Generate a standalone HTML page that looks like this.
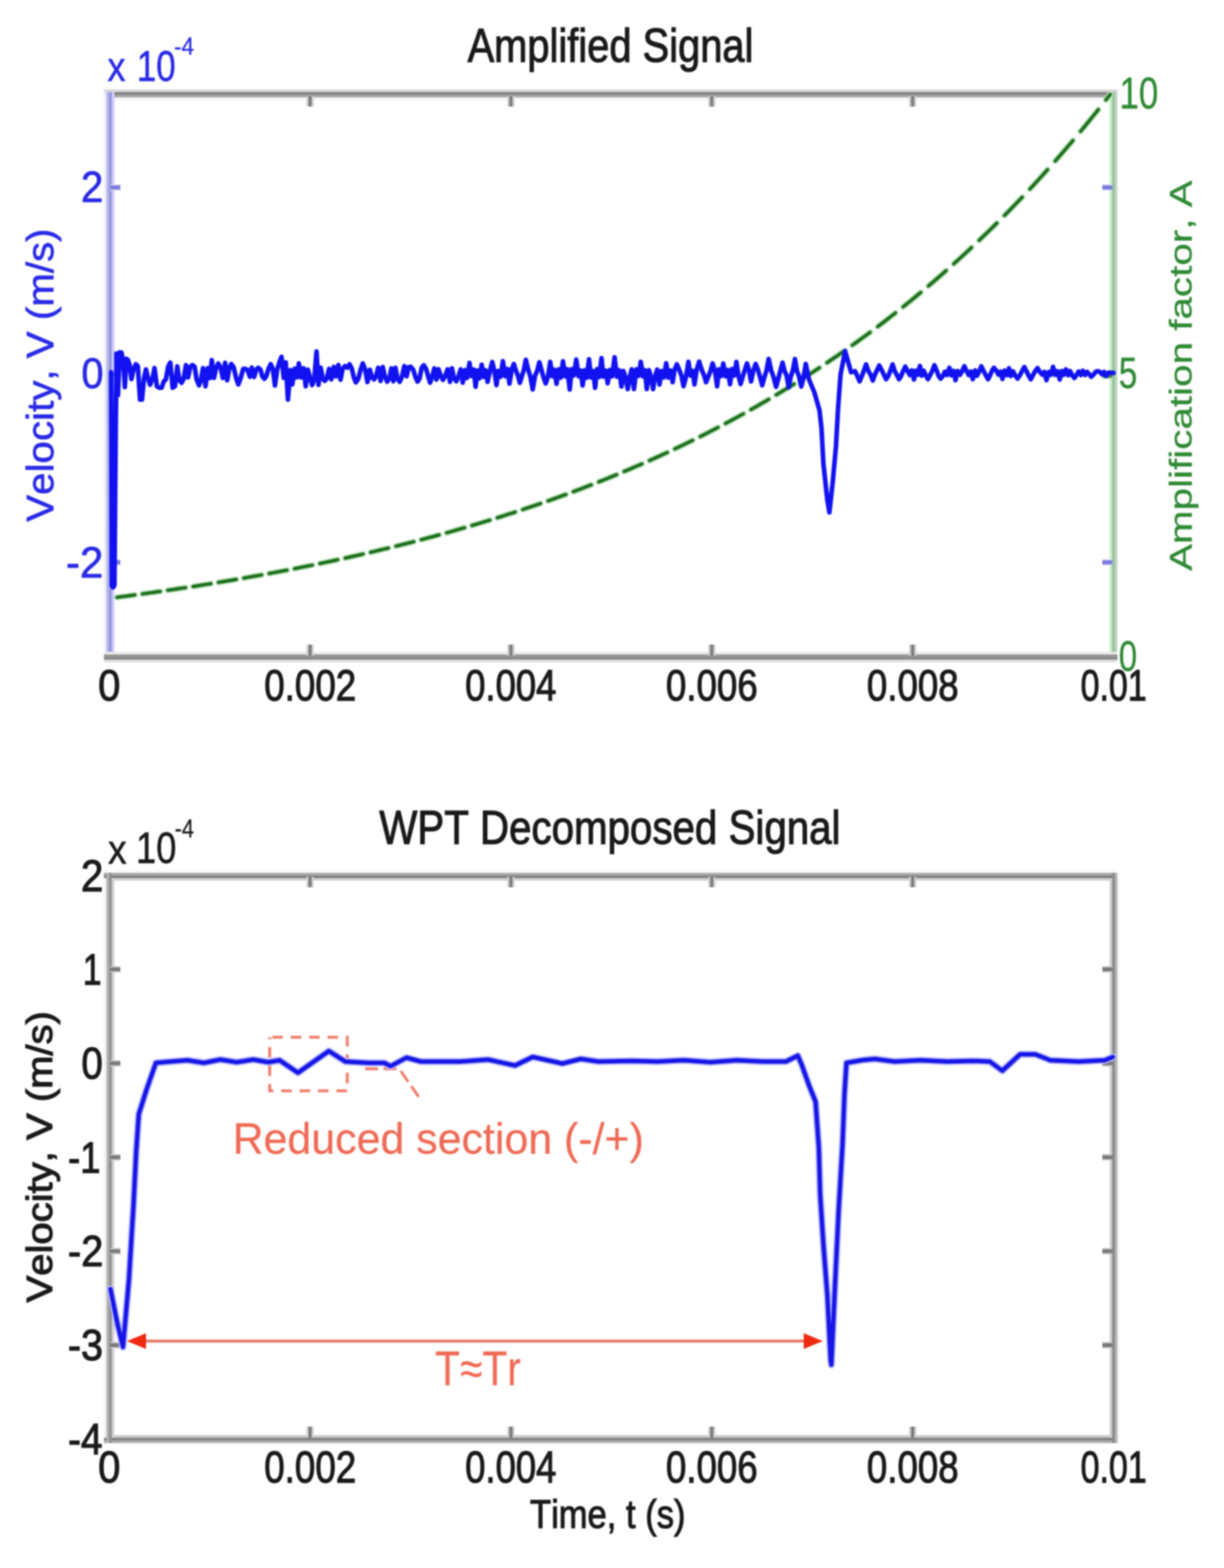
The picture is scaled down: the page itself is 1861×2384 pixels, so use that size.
<!DOCTYPE html>
<html><head><meta charset="utf-8"><title>Amplified Signal / WPT Decomposed Signal</title>
<style>html,body{margin:0;padding:0;background:#fff;width:1861px;height:2384px;overflow:hidden}
svg text{font-family:"Liberation Sans", Arial, Helvetica, sans-serif;font-kerning:none;letter-spacing:0}</style>
</head><body>
<svg width="1861" height="2384" viewBox="0 0 1861 2384" style="display:block;filter:blur(1.0px)">
<rect width="1861" height="2384" fill="#fff"/>
<rect x="158" y="136" width="1541" height="4" fill="#d7d7d7"/>
<rect x="158" y="148" width="1541" height="4" fill="#f4f4f4"/>
<rect x="158" y="140" width="1541" height="4" fill="#858585"/>
<rect x="158" y="144" width="1541" height="4" fill="#a3a3a3"/>
<rect x="158" y="140" width="4" height="855" fill="#ececfc"/>
<rect x="170" y="140" width="4" height="855" fill="#d0ccfc"/>
<rect x="162" y="140" width="4" height="855" fill="#b0b4e4"/>
<rect x="166" y="140" width="4" height="855" fill="#9896e0"/>
<rect x="1687" y="140" width="4" height="855" fill="#c6eec8"/>
<rect x="1695" y="140" width="4" height="855" fill="#c2d4c8"/>
<rect x="1691" y="140" width="4" height="855" fill="#98c29a"/>
<rect x="158" y="991" width="1541" height="4" fill="#ebebeb"/>
<rect x="158" y="1003" width="1541" height="4" fill="#e0e0e0"/>
<rect x="158" y="995" width="1541" height="4" fill="#979797"/>
<rect x="158" y="999" width="1541" height="4" fill="#8a8a8a"/>
<line x1="471.4" y1="997" x2="471.4" y2="980" stroke="#d2d2d2" stroke-width="11" stroke-linecap="butt"/>
<line x1="471.4" y1="997" x2="471.4" y2="980" stroke="#7e7e7e" stroke-width="5" stroke-linecap="butt"/>
<line x1="471.4" y1="146" x2="471.4" y2="162" stroke="#d2d2d2" stroke-width="11" stroke-linecap="butt"/>
<line x1="471.4" y1="146" x2="471.4" y2="162" stroke="#7e7e7e" stroke-width="5" stroke-linecap="butt"/>
<line x1="776.8" y1="997" x2="776.8" y2="980" stroke="#d2d2d2" stroke-width="11" stroke-linecap="butt"/>
<line x1="776.8" y1="997" x2="776.8" y2="980" stroke="#7e7e7e" stroke-width="5" stroke-linecap="butt"/>
<line x1="776.8" y1="146" x2="776.8" y2="162" stroke="#d2d2d2" stroke-width="11" stroke-linecap="butt"/>
<line x1="776.8" y1="146" x2="776.8" y2="162" stroke="#7e7e7e" stroke-width="5" stroke-linecap="butt"/>
<line x1="1082.2" y1="997" x2="1082.2" y2="980" stroke="#d2d2d2" stroke-width="11" stroke-linecap="butt"/>
<line x1="1082.2" y1="997" x2="1082.2" y2="980" stroke="#7e7e7e" stroke-width="5" stroke-linecap="butt"/>
<line x1="1082.2" y1="146" x2="1082.2" y2="162" stroke="#d2d2d2" stroke-width="11" stroke-linecap="butt"/>
<line x1="1082.2" y1="146" x2="1082.2" y2="162" stroke="#7e7e7e" stroke-width="5" stroke-linecap="butt"/>
<line x1="1387.6" y1="997" x2="1387.6" y2="980" stroke="#d2d2d2" stroke-width="11" stroke-linecap="butt"/>
<line x1="1387.6" y1="997" x2="1387.6" y2="980" stroke="#7e7e7e" stroke-width="5" stroke-linecap="butt"/>
<line x1="1387.6" y1="146" x2="1387.6" y2="162" stroke="#d2d2d2" stroke-width="11" stroke-linecap="butt"/>
<line x1="1387.6" y1="146" x2="1387.6" y2="162" stroke="#7e7e7e" stroke-width="5" stroke-linecap="butt"/>
<line x1="168" y1="285" x2="183" y2="285" stroke="#d8d8f6" stroke-width="10" stroke-linecap="butt"/>
<line x1="168" y1="285" x2="183" y2="285" stroke="#7a7ae0" stroke-width="6" stroke-linecap="butt"/>
<line x1="1691" y1="285" x2="1676" y2="285" stroke="#d8d8f6" stroke-width="10" stroke-linecap="butt"/>
<line x1="1691" y1="285" x2="1676" y2="285" stroke="#7a7ae0" stroke-width="6" stroke-linecap="butt"/>
<line x1="168" y1="570" x2="183" y2="570" stroke="#d8d8f6" stroke-width="10" stroke-linecap="butt"/>
<line x1="168" y1="570" x2="183" y2="570" stroke="#7a7ae0" stroke-width="6" stroke-linecap="butt"/>
<line x1="1691" y1="570" x2="1676" y2="570" stroke="#d8d8f6" stroke-width="10" stroke-linecap="butt"/>
<line x1="1691" y1="570" x2="1676" y2="570" stroke="#7a7ae0" stroke-width="6" stroke-linecap="butt"/>
<line x1="168" y1="855" x2="183" y2="855" stroke="#d8d8f6" stroke-width="10" stroke-linecap="butt"/>
<line x1="168" y1="855" x2="183" y2="855" stroke="#7a7ae0" stroke-width="6" stroke-linecap="butt"/>
<line x1="1691" y1="855" x2="1676" y2="855" stroke="#d8d8f6" stroke-width="10" stroke-linecap="butt"/>
<line x1="1691" y1="855" x2="1676" y2="855" stroke="#7a7ae0" stroke-width="6" stroke-linecap="butt"/>
<line x1="1691" y1="571.5" x2="1676" y2="571.5" stroke="#d0e8d0" stroke-width="10" stroke-linecap="butt"/>
<line x1="1691" y1="571.5" x2="1676" y2="571.5" stroke="#4a8a4a" stroke-width="6" stroke-linecap="butt"/>
<polyline points="178,908.19 182.5,907.6 187,907 191.5,906.4 196,905.8 200.5,905.19 205,904.58" fill="none" stroke="#b4dcb4" stroke-width="9" stroke-linejoin="round" stroke-linecap="round" stroke-linecap="butt"/>
<polyline points="178,908.19 182.5,907.6 187,907 191.5,906.4 196,905.8 200.5,905.19 205,904.58" fill="none" stroke="#1b6f1b" stroke-width="5" stroke-linejoin="round" stroke-linecap="round" stroke-linecap="butt"/>
<polyline points="216.55,903 221.05,902.37 225.55,901.74 230.05,901.11 234.55,900.47 239.05,899.82 243.55,899.18" fill="none" stroke="#b4dcb4" stroke-width="9" stroke-linejoin="round" stroke-linecap="round" stroke-linecap="butt"/>
<polyline points="216.55,903 221.05,902.37 225.55,901.74 230.05,901.11 234.55,900.47 239.05,899.82 243.55,899.18" fill="none" stroke="#1b6f1b" stroke-width="5" stroke-linejoin="round" stroke-linecap="round" stroke-linecap="butt"/>
<polyline points="255.1,897.49 259.6,896.83 264.1,896.16 268.6,895.49 273.1,894.81 277.6,894.13 282.1,893.44" fill="none" stroke="#b4dcb4" stroke-width="9" stroke-linejoin="round" stroke-linecap="round" stroke-linecap="butt"/>
<polyline points="255.1,897.49 259.6,896.83 264.1,896.16 268.6,895.49 273.1,894.81 277.6,894.13 282.1,893.44" fill="none" stroke="#1b6f1b" stroke-width="5" stroke-linejoin="round" stroke-linecap="round" stroke-linecap="butt"/>
<polyline points="293.65,891.66 298.15,890.96 302.65,890.25 307.15,889.54 311.65,888.82 316.15,888.1 320.65,887.37" fill="none" stroke="#b4dcb4" stroke-width="9" stroke-linejoin="round" stroke-linecap="round" stroke-linecap="butt"/>
<polyline points="293.65,891.66 298.15,890.96 302.65,890.25 307.15,889.54 311.65,888.82 316.15,888.1 320.65,887.37" fill="none" stroke="#1b6f1b" stroke-width="5" stroke-linejoin="round" stroke-linecap="round" stroke-linecap="butt"/>
<polyline points="332.2,885.48 336.7,884.73 341.2,883.98 345.7,883.22 350.2,882.46 354.7,881.7 359.2,880.92" fill="none" stroke="#b4dcb4" stroke-width="9" stroke-linejoin="round" stroke-linecap="round" stroke-linecap="butt"/>
<polyline points="332.2,885.48 336.7,884.73 341.2,883.98 345.7,883.22 350.2,882.46 354.7,881.7 359.2,880.92" fill="none" stroke="#1b6f1b" stroke-width="5" stroke-linejoin="round" stroke-linecap="round" stroke-linecap="butt"/>
<polyline points="370.75,878.92 375.25,878.13 379.75,877.33 384.25,876.53 388.75,875.72 393.25,874.91 397.75,874.09" fill="none" stroke="#b4dcb4" stroke-width="9" stroke-linejoin="round" stroke-linecap="round" stroke-linecap="butt"/>
<polyline points="370.75,878.92 375.25,878.13 379.75,877.33 384.25,876.53 388.75,875.72 393.25,874.91 397.75,874.09" fill="none" stroke="#1b6f1b" stroke-width="5" stroke-linejoin="round" stroke-linecap="round" stroke-linecap="butt"/>
<polyline points="409.3,871.97 413.8,871.13 418.3,870.29 422.8,869.44 427.3,868.58 431.8,867.72 436.3,866.85" fill="none" stroke="#b4dcb4" stroke-width="9" stroke-linejoin="round" stroke-linecap="round" stroke-linecap="butt"/>
<polyline points="409.3,871.97 413.8,871.13 418.3,870.29 422.8,869.44 427.3,868.58 431.8,867.72 436.3,866.85" fill="none" stroke="#1b6f1b" stroke-width="5" stroke-linejoin="round" stroke-linecap="round" stroke-linecap="butt"/>
<polyline points="447.85,864.6 452.35,863.71 456.85,862.82 461.35,861.91 465.85,861.01 470.35,860.09 474.85,859.17" fill="none" stroke="#b4dcb4" stroke-width="9" stroke-linejoin="round" stroke-linecap="round" stroke-linecap="butt"/>
<polyline points="447.85,864.6 452.35,863.71 456.85,862.82 461.35,861.91 465.85,861.01 470.35,860.09 474.85,859.17" fill="none" stroke="#1b6f1b" stroke-width="5" stroke-linejoin="round" stroke-linecap="round" stroke-linecap="butt"/>
<polyline points="486.4,856.79 490.9,855.84 495.4,854.9 499.9,853.94 504.4,852.98 508.9,852.01 513.4,851.04" fill="none" stroke="#b4dcb4" stroke-width="9" stroke-linejoin="round" stroke-linecap="round" stroke-linecap="butt"/>
<polyline points="486.4,856.79 490.9,855.84 495.4,854.9 499.9,853.94 504.4,852.98 508.9,852.01 513.4,851.04" fill="none" stroke="#1b6f1b" stroke-width="5" stroke-linejoin="round" stroke-linecap="round" stroke-linecap="butt"/>
<polyline points="524.95,848.5 529.45,847.5 533.95,846.5 538.45,845.49 542.95,844.47 547.45,843.44 551.95,842.41" fill="none" stroke="#b4dcb4" stroke-width="9" stroke-linejoin="round" stroke-linecap="round" stroke-linecap="butt"/>
<polyline points="524.95,848.5 529.45,847.5 533.95,846.5 538.45,845.49 542.95,844.47 547.45,843.44 551.95,842.41" fill="none" stroke="#1b6f1b" stroke-width="5" stroke-linejoin="round" stroke-linecap="round" stroke-linecap="butt"/>
<polyline points="563.5,839.72 568,838.66 572.5,837.6 577,836.52 581.5,835.44 586,834.35 590.5,833.26" fill="none" stroke="#b4dcb4" stroke-width="9" stroke-linejoin="round" stroke-linecap="round" stroke-linecap="butt"/>
<polyline points="563.5,839.72 568,838.66 572.5,837.6 577,836.52 581.5,835.44 586,834.35 590.5,833.26" fill="none" stroke="#1b6f1b" stroke-width="5" stroke-linejoin="round" stroke-linecap="round" stroke-linecap="butt"/>
<polyline points="602.05,830.41 606.55,829.29 611.05,828.16 615.55,827.02 620.05,825.87 624.55,824.72 629.05,823.56" fill="none" stroke="#b4dcb4" stroke-width="9" stroke-linejoin="round" stroke-linecap="round" stroke-linecap="butt"/>
<polyline points="602.05,830.41 606.55,829.29 611.05,828.16 615.55,827.02 620.05,825.87 624.55,824.72 629.05,823.56" fill="none" stroke="#1b6f1b" stroke-width="5" stroke-linejoin="round" stroke-linecap="round" stroke-linecap="butt"/>
<polyline points="640.6,820.54 645.1,819.35 649.6,818.15 654.1,816.94 658.6,815.73 663.1,814.51 667.6,813.27" fill="none" stroke="#b4dcb4" stroke-width="9" stroke-linejoin="round" stroke-linecap="round" stroke-linecap="butt"/>
<polyline points="640.6,820.54 645.1,819.35 649.6,818.15 654.1,816.94 658.6,815.73 663.1,814.51 667.6,813.27" fill="none" stroke="#1b6f1b" stroke-width="5" stroke-linejoin="round" stroke-linecap="round" stroke-linecap="butt"/>
<polyline points="679.15,810.07 683.65,808.81 688.15,807.54 692.65,806.26 697.15,804.97 701.65,803.68 706.15,802.37" fill="none" stroke="#b4dcb4" stroke-width="9" stroke-linejoin="round" stroke-linecap="round" stroke-linecap="butt"/>
<polyline points="679.15,810.07 683.65,808.81 688.15,807.54 692.65,806.26 697.15,804.97 701.65,803.68 706.15,802.37" fill="none" stroke="#1b6f1b" stroke-width="5" stroke-linejoin="round" stroke-linecap="round" stroke-linecap="butt"/>
<polyline points="717.7,798.98 722.2,797.64 726.7,796.29 731.2,794.94 735.7,793.57 740.2,792.2 744.7,790.81" fill="none" stroke="#b4dcb4" stroke-width="9" stroke-linejoin="round" stroke-linecap="round" stroke-linecap="butt"/>
<polyline points="717.7,798.98 722.2,797.64 726.7,796.29 731.2,794.94 735.7,793.57 740.2,792.2 744.7,790.81" fill="none" stroke="#1b6f1b" stroke-width="5" stroke-linejoin="round" stroke-linecap="round" stroke-linecap="butt"/>
<polyline points="756.25,787.22 760.75,785.8 765.25,784.37 769.75,782.93 774.25,781.48 778.75,780.03 783.25,778.56" fill="none" stroke="#b4dcb4" stroke-width="9" stroke-linejoin="round" stroke-linecap="round" stroke-linecap="butt"/>
<polyline points="756.25,787.22 760.75,785.8 765.25,784.37 769.75,782.93 774.25,781.48 778.75,780.03 783.25,778.56" fill="none" stroke="#1b6f1b" stroke-width="5" stroke-linejoin="round" stroke-linecap="round" stroke-linecap="butt"/>
<polyline points="794.8,774.75 799.3,773.24 803.8,771.73 808.3,770.2 812.8,768.67 817.3,767.12 821.8,765.57" fill="none" stroke="#b4dcb4" stroke-width="9" stroke-linejoin="round" stroke-linecap="round" stroke-linecap="butt"/>
<polyline points="794.8,774.75 799.3,773.24 803.8,771.73 808.3,770.2 812.8,768.67 817.3,767.12 821.8,765.57" fill="none" stroke="#1b6f1b" stroke-width="5" stroke-linejoin="round" stroke-linecap="round" stroke-linecap="butt"/>
<polyline points="833.35,761.53 837.85,759.93 842.35,758.33 846.85,756.71 851.35,755.08 855.85,753.44 860.35,751.79" fill="none" stroke="#b4dcb4" stroke-width="9" stroke-linejoin="round" stroke-linecap="round" stroke-linecap="butt"/>
<polyline points="833.35,761.53 837.85,759.93 842.35,758.33 846.85,756.71 851.35,755.08 855.85,753.44 860.35,751.79" fill="none" stroke="#1b6f1b" stroke-width="5" stroke-linejoin="round" stroke-linecap="round" stroke-linecap="butt"/>
<polyline points="871.9,747.51 876.4,745.82 880.9,744.12 885.4,742.4 889.9,740.68 894.4,738.94 898.9,737.19" fill="none" stroke="#b4dcb4" stroke-width="9" stroke-linejoin="round" stroke-linecap="round" stroke-linecap="butt"/>
<polyline points="871.9,747.51 876.4,745.82 880.9,744.12 885.4,742.4 889.9,740.68 894.4,738.94 898.9,737.19" fill="none" stroke="#1b6f1b" stroke-width="5" stroke-linejoin="round" stroke-linecap="round" stroke-linecap="butt"/>
<polyline points="910.45,732.65 914.95,730.86 919.45,729.05 923.95,727.24 928.45,725.41 932.95,723.57 937.45,721.71" fill="none" stroke="#b4dcb4" stroke-width="9" stroke-linejoin="round" stroke-linecap="round" stroke-linecap="butt"/>
<polyline points="910.45,732.65 914.95,730.86 919.45,729.05 923.95,727.24 928.45,725.41 932.95,723.57 937.45,721.71" fill="none" stroke="#1b6f1b" stroke-width="5" stroke-linejoin="round" stroke-linecap="round" stroke-linecap="butt"/>
<polyline points="949,716.89 953.5,714.99 958,713.08 962.5,711.16 967,709.22 971.5,707.26 976,705.3" fill="none" stroke="#b4dcb4" stroke-width="9" stroke-linejoin="round" stroke-linecap="round" stroke-linecap="butt"/>
<polyline points="949,716.89 953.5,714.99 958,713.08 962.5,711.16 967,709.22 971.5,707.26 976,705.3" fill="none" stroke="#1b6f1b" stroke-width="5" stroke-linejoin="round" stroke-linecap="round" stroke-linecap="butt"/>
<polyline points="987.55,700.19 992.05,698.18 996.55,696.15 1001.05,694.11 1005.55,692.05 1010.05,689.98 1014.55,687.9" fill="none" stroke="#b4dcb4" stroke-width="9" stroke-linejoin="round" stroke-linecap="round" stroke-linecap="butt"/>
<polyline points="987.55,700.19 992.05,698.18 996.55,696.15 1001.05,694.11 1005.55,692.05 1010.05,689.98 1014.55,687.9" fill="none" stroke="#1b6f1b" stroke-width="5" stroke-linejoin="round" stroke-linecap="round" stroke-linecap="butt"/>
<polyline points="1026.1,682.48 1030.6,680.35 1035.1,678.2 1039.6,676.03 1044.1,673.85 1048.6,671.66 1053.1,669.45" fill="none" stroke="#b4dcb4" stroke-width="9" stroke-linejoin="round" stroke-linecap="round" stroke-linecap="butt"/>
<polyline points="1026.1,682.48 1030.6,680.35 1035.1,678.2 1039.6,676.03 1044.1,673.85 1048.6,671.66 1053.1,669.45" fill="none" stroke="#1b6f1b" stroke-width="5" stroke-linejoin="round" stroke-linecap="round" stroke-linecap="butt"/>
<polyline points="1064.65,663.71 1069.15,661.45 1073.65,659.17 1078.15,656.87 1082.65,654.56 1087.15,652.23 1091.65,649.89" fill="none" stroke="#b4dcb4" stroke-width="9" stroke-linejoin="round" stroke-linecap="round" stroke-linecap="butt"/>
<polyline points="1064.65,663.71 1069.15,661.45 1073.65,659.17 1078.15,656.87 1082.65,654.56 1087.15,652.23 1091.65,649.89" fill="none" stroke="#1b6f1b" stroke-width="5" stroke-linejoin="round" stroke-linecap="round" stroke-linecap="butt"/>
<polyline points="1103.2,643.81 1107.7,641.41 1112.2,638.99 1116.7,636.56 1121.2,634.11 1125.7,631.64 1130.2,629.16" fill="none" stroke="#b4dcb4" stroke-width="9" stroke-linejoin="round" stroke-linecap="round" stroke-linecap="butt"/>
<polyline points="1103.2,643.81 1107.7,641.41 1112.2,638.99 1116.7,636.56 1121.2,634.11 1125.7,631.64 1130.2,629.16" fill="none" stroke="#1b6f1b" stroke-width="5" stroke-linejoin="round" stroke-linecap="round" stroke-linecap="butt"/>
<polyline points="1141.75,622.7 1146.25,620.16 1150.75,617.6 1155.25,615.02 1159.75,612.42 1164.25,609.81 1168.75,607.17" fill="none" stroke="#b4dcb4" stroke-width="9" stroke-linejoin="round" stroke-linecap="round" stroke-linecap="butt"/>
<polyline points="1141.75,622.7 1146.25,620.16 1150.75,617.6 1155.25,615.02 1159.75,612.42 1164.25,609.81 1168.75,607.17" fill="none" stroke="#1b6f1b" stroke-width="5" stroke-linejoin="round" stroke-linecap="round" stroke-linecap="butt"/>
<polyline points="1180.3,600.33 1184.8,597.63 1189.3,594.92 1193.8,592.18 1198.3,589.43 1202.8,586.66 1207.3,583.87" fill="none" stroke="#b4dcb4" stroke-width="9" stroke-linejoin="round" stroke-linecap="round" stroke-linecap="butt"/>
<polyline points="1180.3,600.33 1184.8,597.63 1189.3,594.92 1193.8,592.18 1198.3,589.43 1202.8,586.66 1207.3,583.87" fill="none" stroke="#1b6f1b" stroke-width="5" stroke-linejoin="round" stroke-linecap="round" stroke-linecap="butt"/>
<polyline points="1218.85,576.61 1223.35,573.75 1227.85,570.87 1232.35,567.98 1236.85,565.06 1241.35,562.12 1245.85,559.16" fill="none" stroke="#b4dcb4" stroke-width="9" stroke-linejoin="round" stroke-linecap="round" stroke-linecap="butt"/>
<polyline points="1218.85,576.61 1223.35,573.75 1227.85,570.87 1232.35,567.98 1236.85,565.06 1241.35,562.12 1245.85,559.16" fill="none" stroke="#1b6f1b" stroke-width="5" stroke-linejoin="round" stroke-linecap="round" stroke-linecap="butt"/>
<polyline points="1257.4,551.47 1261.9,548.44 1266.4,545.38 1270.9,542.31 1275.4,539.21 1279.9,536.1 1284.4,532.96" fill="none" stroke="#b4dcb4" stroke-width="9" stroke-linejoin="round" stroke-linecap="round" stroke-linecap="butt"/>
<polyline points="1257.4,551.47 1261.9,548.44 1266.4,545.38 1270.9,542.31 1275.4,539.21 1279.9,536.1 1284.4,532.96" fill="none" stroke="#1b6f1b" stroke-width="5" stroke-linejoin="round" stroke-linecap="round" stroke-linecap="butt"/>
<polyline points="1295.95,524.81 1300.45,521.6 1304.95,518.36 1309.45,515.1 1313.95,511.82 1318.45,508.51 1322.95,505.19" fill="none" stroke="#b4dcb4" stroke-width="9" stroke-linejoin="round" stroke-linecap="round" stroke-linecap="butt"/>
<polyline points="1295.95,524.81 1300.45,521.6 1304.95,518.36 1309.45,515.1 1313.95,511.82 1318.45,508.51 1322.95,505.19" fill="none" stroke="#1b6f1b" stroke-width="5" stroke-linejoin="round" stroke-linecap="round" stroke-linecap="butt"/>
<polyline points="1334.5,496.55 1339,493.14 1343.5,489.71 1348,486.25 1352.5,482.77 1357,479.27 1361.5,475.74" fill="none" stroke="#b4dcb4" stroke-width="9" stroke-linejoin="round" stroke-linecap="round" stroke-linecap="butt"/>
<polyline points="1334.5,496.55 1339,493.14 1343.5,489.71 1348,486.25 1352.5,482.77 1357,479.27 1361.5,475.74" fill="none" stroke="#1b6f1b" stroke-width="5" stroke-linejoin="round" stroke-linecap="round" stroke-linecap="butt"/>
<polyline points="1373.05,466.58 1377.55,462.97 1382.05,459.33 1386.55,455.67 1391.05,451.98 1395.55,448.27 1400.05,444.53" fill="none" stroke="#b4dcb4" stroke-width="9" stroke-linejoin="round" stroke-linecap="round" stroke-linecap="butt"/>
<polyline points="1373.05,466.58 1377.55,462.97 1382.05,459.33 1386.55,455.67 1391.05,451.98 1395.55,448.27 1400.05,444.53" fill="none" stroke="#1b6f1b" stroke-width="5" stroke-linejoin="round" stroke-linecap="round" stroke-linecap="butt"/>
<polyline points="1411.6,434.81 1416.1,430.98 1420.6,427.13 1425.1,423.24 1429.6,419.33 1434.1,415.4 1438.6,411.43" fill="none" stroke="#b4dcb4" stroke-width="9" stroke-linejoin="round" stroke-linecap="round" stroke-linecap="butt"/>
<polyline points="1411.6,434.81 1416.1,430.98 1420.6,427.13 1425.1,423.24 1429.6,419.33 1434.1,415.4 1438.6,411.43" fill="none" stroke="#1b6f1b" stroke-width="5" stroke-linejoin="round" stroke-linecap="round" stroke-linecap="butt"/>
<polyline points="1450.15,401.13 1454.65,397.07 1459.15,392.98 1463.65,388.87 1468.15,384.72 1472.65,380.55 1477.15,376.35" fill="none" stroke="#b4dcb4" stroke-width="9" stroke-linejoin="round" stroke-linecap="round" stroke-linecap="butt"/>
<polyline points="1450.15,401.13 1454.65,397.07 1459.15,392.98 1463.65,388.87 1468.15,384.72 1472.65,380.55 1477.15,376.35" fill="none" stroke="#1b6f1b" stroke-width="5" stroke-linejoin="round" stroke-linecap="round" stroke-linecap="butt"/>
<polyline points="1488.7,365.43 1493.2,361.12 1497.7,356.79 1502.2,352.42 1506.7,348.03 1511.2,343.6 1515.7,339.15" fill="none" stroke="#b4dcb4" stroke-width="9" stroke-linejoin="round" stroke-linecap="round" stroke-linecap="butt"/>
<polyline points="1488.7,365.43 1493.2,361.12 1497.7,356.79 1502.2,352.42 1506.7,348.03 1511.2,343.6 1515.7,339.15" fill="none" stroke="#1b6f1b" stroke-width="5" stroke-linejoin="round" stroke-linecap="round" stroke-linecap="butt"/>
<polyline points="1527.25,327.57 1531.75,323.01 1536.25,318.41 1540.75,313.78 1545.25,309.12 1549.75,304.43 1554.25,299.71" fill="none" stroke="#b4dcb4" stroke-width="9" stroke-linejoin="round" stroke-linecap="round" stroke-linecap="butt"/>
<polyline points="1527.25,327.57 1531.75,323.01 1536.25,318.41 1540.75,313.78 1545.25,309.12 1549.75,304.43 1554.25,299.71" fill="none" stroke="#1b6f1b" stroke-width="5" stroke-linejoin="round" stroke-linecap="round" stroke-linecap="butt"/>
<polyline points="1565.8,287.44 1570.3,282.6 1574.8,277.73 1579.3,272.82 1583.8,267.88 1588.3,262.91 1592.8,257.9" fill="none" stroke="#b4dcb4" stroke-width="9" stroke-linejoin="round" stroke-linecap="round" stroke-linecap="butt"/>
<polyline points="1565.8,287.44 1570.3,282.6 1574.8,277.73 1579.3,272.82 1583.8,267.88 1588.3,262.91 1592.8,257.9" fill="none" stroke="#1b6f1b" stroke-width="5" stroke-linejoin="round" stroke-linecap="round" stroke-linecap="butt"/>
<polyline points="1604.35,244.89 1608.85,239.76 1613.35,234.59 1617.85,229.39 1622.35,224.15 1626.85,218.88 1631.35,213.57" fill="none" stroke="#b4dcb4" stroke-width="9" stroke-linejoin="round" stroke-linecap="round" stroke-linecap="butt"/>
<polyline points="1604.35,244.89 1608.85,239.76 1613.35,234.59 1617.85,229.39 1622.35,224.15 1626.85,218.88 1631.35,213.57" fill="none" stroke="#1b6f1b" stroke-width="5" stroke-linejoin="round" stroke-linecap="round" stroke-linecap="butt"/>
<polyline points="1642.9,199.78 1647.4,194.34 1651.9,188.86 1656.4,183.35 1660.9,177.79 1665.4,172.2 1669.9,166.58" fill="none" stroke="#b4dcb4" stroke-width="9" stroke-linejoin="round" stroke-linecap="round" stroke-linecap="butt"/>
<polyline points="1642.9,199.78 1647.4,194.34 1651.9,188.86 1656.4,183.35 1660.9,177.79 1665.4,172.2 1669.9,166.58" fill="none" stroke="#1b6f1b" stroke-width="5" stroke-linejoin="round" stroke-linecap="round" stroke-linecap="butt"/>
<polyline points="1681.45,151.95 1682.54,150.56 1683.63,149.16 1684.72,147.76 1685.82,146.36 1686.91,144.95 1688,143.54" fill="none" stroke="#b4dcb4" stroke-width="9" stroke-linejoin="round" stroke-linecap="round" stroke-linecap="butt"/>
<polyline points="1681.45,151.95 1682.54,150.56 1683.63,149.16 1684.72,147.76 1685.82,146.36 1686.91,144.95 1688,143.54" fill="none" stroke="#1b6f1b" stroke-width="5" stroke-linejoin="round" stroke-linecap="round" stroke-linecap="butt"/>
<polyline points="169,566 169.5,700 170,890 172,893 174,890 176,650 177,560 177,537.49 179.39,600.79 181.97,535.67 184.62,536.05 187.33,548.86 189.79,588.6 192.37,545.6 194.61,547.24 197.15,555.38 199.87,576.19 202.79,562.54 206.46,553.78 209.55,556.73 212.89,607.5 215.9,607.5 219,574.64 221.97,561.67 224.84,574.27 228.24,584.92 231.86,575.36 234.97,559.64 238.48,587.3 242.12,589.5 245.7,589.5 249.08,579.87 252.08,577.02 255.81,556.85 258.95,551.3 262.5,589.5 266.15,587.07 269.56,557 272.7,578.04 276.05,582.03 279,576.62 282.79,555.11 286,573.89 289.39,557.55 292.65,555.05 295.94,557.48 298.88,576.88 302.62,585.8 305.58,577.56 308.67,559.81 312.47,587.31 315.99,559.65 319.09,574.89 322.04,547.59 325.34,574.5 328.23,560.9 331.81,552.61 335.3,558.53 338.86,574.65 342.36,551.61 345.46,578.17 348.91,559.04 351.72,553.49 355.34,558.63 358.93,574.55 362.37,584.5 366.04,574.53 369.81,560.75 373.13,560.81 376.41,562.39 379.92,572.85 382.9,558.85 386.32,573.2 389.76,561.89 392.59,559.16 396.07,562.03 398.92,572.44 401.95,575.83 404.94,571.72 408.21,560.72 411.62,553.6 414.83,560.88 418.04,586.15 421.45,562.02 424.8,550.85 428.02,542.5 431.46,574.59 434.4,550.99 437.81,607.5 441.5,562.64 444.41,584.42 448.1,560.45 451.33,573.66 454.42,552.46 457.82,573.83 461.59,559.8 464.81,587.37 468.09,562.02 471.51,574.84 474.6,585.4 477.68,577.66 481.26,534.5 484.33,585.03 487.6,559.08 491.01,576.47 493.93,579.03 497.03,575.21 500.29,560.77 503.83,576.72 507.55,557.81 510.89,572.22 514.47,555.05 517.75,577.26 520.94,560.69 524.59,556.72 528.22,559.03 531.45,553.82 534.73,559.87 538.03,573.89 540.98,581.37 544.6,576.42 548.06,562.84 551.58,552.51 555.22,561.8 558.67,580.77 562.38,562.2 565.79,574.23 568.75,576.76 571.63,572.26 575.01,559.04 578.68,579.09 581.97,558.02 585.15,572.21 588.64,580.29 591.99,575.21 595.06,560.17 598.12,579.6 601.29,559.22 604.27,575.64 607.73,580.51 611.12,573.09 614.79,556.56 618.31,572.09 621.27,558.21 624.75,557.8 628.37,562.5 631.79,573.61 634.83,580.18 637.77,576.05 641.21,559.11 644.45,555.4 647.98,561.25 650.89,571.87 653.89,581.84 656.7,574.09 660.38,560.17 663.61,577.1 666.79,561.39 670.46,572.41 673.52,577.47 676.8,571.78 680.52,561.54 684.26,580.54 687.18,560.07 690.27,574.94 693.8,579.7 696.68,573.55 700.45,561.65 703.56,581.83 707.08,562.74 710.12,574.67 713.86,551.79 716.67,571.65 720.25,561.76 723.1,587.99 726.25,563.31 729.12,575.31 732.41,554.57 735.27,572.93 738.13,562.75 741.34,580.55 745.11,563.18 748.42,550.27 751.53,563.57 754.87,585.44 757.89,564.03 761.23,572.86 764.6,549.13 768.31,572.02 771.56,560.98 774.59,583.35 778.16,561.15 781.27,553.46 784.16,562.7 787.54,571.59 790.4,582.09 793.49,572.09 796.39,562.73 799.51,547 802.96,561.43 806.34,572.35 809.95,592.05 813.45,571.68 817.06,562.88 819.99,550.81 823.47,563.25 826.33,573.59 829.69,583.01 832.85,573.96 836.59,550.19 839.76,571.92 842.57,562.1 846.2,583.45 849.17,561.62 852.42,574.26 856.01,549.33 859.27,572.32 862.51,561.4 866.25,592.2 869.15,561.22 872.37,570.85 876.15,546.73 879.83,572.16 882.84,563.28 885.85,586.07 888.89,563 891.94,574.43 895.58,546.32 898.53,573.85 901.82,564.2 904.79,589.68 907.79,561.28 910.92,573.28 914.58,544.5 917.39,572.62 920.78,563.64 923.97,582.77 927.15,562.52 930.65,572.19 934.43,543.26 937.9,572.72 941.49,562.95 944.89,587.72 947.77,564.01 950.93,572.88 954.48,591.5 957.56,573.41 960.44,561.45 963.91,591.47 967.54,561.51 970.95,571.45 974.27,550.11 977.61,572.16 980.42,562.85 983.4,591.5 986.81,562.86 989.72,573.3 993.08,591.5 996.09,571.83 999.16,561.95 1002.86,584.56 1005.88,564.11 1009.25,573.85 1012.92,552.17 1016.25,574.13 1019.36,563.27 1022.76,581 1025.68,562.18 1029.08,553.98 1032.53,561.69 1036.05,570.89 1039.34,587.16 1042.99,573.13 1046.71,549.93 1049.99,571.04 1052.98,563.75 1055.88,584.43 1059.43,561.52 1063.05,549.8 1066.8,561.94 1070.56,571.05 1073.47,581.15 1076.73,573.27 1080.27,564.03 1083.47,552.5 1086.87,562.91 1090.35,587.2 1093.23,561.42 1096.74,571.79 1099.66,552.67 1103.38,572.12 1106.47,562.43 1109.97,584.11 1113.11,561.09 1116.42,570.84 1119.65,550.17 1122.72,571.02 1126,583.83 1129.73,571 1132.88,561.23 1135.69,552.61 1138.75,562.59 1141.93,579.93 1145.7,562.65 1148.97,553.27 1152.46,562.39 1155.32,572.16 1158.89,585.74 1162.33,573.1 1165.18,564.26 1168.74,545.71 1172.45,562.89 1176.25,573.56 1179.94,588.27 1183.7,574.48 1186.72,562.73 1189.8,551.35 1192.72,563.7 1195.98,570.93 1199.16,588.93 1201.99,573.84 1205.74,562.04 1208.68,545.91 1211.52,563.64 1214.75,571.68 1218.3,587.66 1221.62,574.4 1225.12,553.29 1230,577 1238,596 1246,624 1249,651 1252,706 1258,761 1261,779 1266,734 1271,679 1274,624 1278,569 1285,534 1294,566 1300,564.24 1303.28,571.34 1307.04,579.85 1310.38,571.73 1313.32,563.96 1316.82,554.03 1320.13,563.62 1323.72,569.87 1327.02,578.61 1329.85,570.51 1333.1,563.54 1336.82,555.62 1340.55,562.77 1344.33,570.49 1347.3,576.67 1350.84,571.08 1354.03,562.88 1357.13,554.05 1360.28,564.04 1363.65,570.2 1366.9,576.6 1369.85,572.18 1372.91,564.64 1376.49,557.47 1379.92,564.36 1383.35,570.26 1386.41,563.11 1389.65,576.96 1392.51,563.48 1395.87,569.63 1398.72,556.32 1401.56,571.11 1404.48,563.56 1407.89,571.15 1410.92,576.42 1414.4,569.81 1417.27,564.26 1420.72,555.34 1424.16,563.31 1427.08,571.46 1430.14,575.64 1433.46,571.81 1436.73,565.07 1439.74,570.2 1443.49,559.02 1446.37,570.59 1449.79,563.86 1452.77,578.02 1456.02,564.07 1459.72,569.87 1462.79,564.28 1466.13,556.81 1469.35,563.59 1472.98,570.2 1475.89,564.88 1479.05,576.54 1482.49,563.21 1485.41,571.33 1488.55,565.29 1491.98,556.99 1495.75,564.63 1499.18,571.18 1502.25,576.62 1505.12,571.14 1508.33,563.5 1511.19,559.21 1514.78,563.46 1518.09,569.67 1521.31,565.05 1524.14,576.19 1527.45,563.41 1531.19,570.49 1534.1,559.76 1536.98,571.68 1540.33,564.6 1543.4,570.65 1547.17,575.56 1550.88,570.25 1554.32,563.53 1557.44,558.05 1560.3,563.51 1563.57,570.36 1567.28,576.69 1570.82,569.92 1574.09,563.96 1577.5,559.78 1581.02,565.44 1584.82,569.62 1587.79,565.48 1591.04,578 1594.53,565.46 1597.91,569.86 1601.07,557.82 1604.63,569.98 1608.02,564.43 1611.31,577.05 1614.45,564.06 1617.38,569.97 1620.6,561.68 1624.15,570.46 1626.96,564.19 1630.07,570.58 1633.53,574.65 1636.67,570.24 1639.98,564.86 1643.39,570.22 1646.35,563.68 1649.92,570.16 1652.77,565.37 1656.05,568.94 1659.06,572.75 1662.68,569.64 1665.87,565.42 1668.9,564.41 1672.28,565.4 1675.58,569.14 1678.69,565.53 1681.87,571.58 1685.35,566.45 1693,567" fill="none" stroke="#1212f0" stroke-width="7" stroke-linejoin="round" stroke-linecap="round" />
<text transform="translate(710.88,94.4) scale(0.8383,1)" font-size="72.31" fill="#1a1a1a" stroke="#1a1a1a" stroke-width="1.6" >Amplified Signal</text>
<text transform="translate(163.39,123) scale(0.8708,1)" font-size="62.46" fill="#2a2ae6" stroke="#2a2ae6" stroke-width="0.8" >x</text>
<text transform="translate(207.95,123.37) scale(0.8181,1)" font-size="64.97" fill="#2a2ae6" stroke="#2a2ae6" stroke-width="0.8" >10</text>
<text transform="translate(264.47,83) scale(0.9450,1)" font-size="36.34" fill="#2a2ae6" stroke="#2a2ae6" stroke-width="0.4" >-4</text>
<text transform="translate(122.91,307) scale(0.9329,1)" font-size="65.88" fill="#2a2ae6" stroke="#2a2ae6" stroke-width="1.0" >2</text>
<text transform="translate(123.63,590.37) scale(0.9337,1)" font-size="64.97" fill="#2a2ae6" stroke="#2a2ae6" stroke-width="1.0" >0</text>
<text transform="translate(100.15,878) scale(0.9745,1)" font-size="65.88" fill="#2a2ae6" stroke="#2a2ae6" stroke-width="1.0" >-2</text>
<text transform="translate(1701.95,165.34) scale(0.7841,1)" font-size="67.80" fill="#2f8a34" stroke="#2f8a34" stroke-width="0.5" >10</text>
<text transform="translate(1700.97,590.36) scale(0.7678,1)" font-size="65.93" fill="#2f8a34" stroke="#2f8a34" stroke-width="0.5" >5</text>
<text transform="translate(1701.04,1020.37) scale(0.7727,1)" font-size="64.97" fill="#2f8a34" stroke="#2f8a34" stroke-width="0.5" >0</text>
<text transform="translate(81.2,793.27) rotate(-90) scale(1.0778,1)" font-size="56.86" fill="#2a2ae6" stroke="#2a2ae6" stroke-width="0.9">Velocity, V (m/s)</text>
<text transform="translate(1812.2,868.12) rotate(-90) scale(1.3018,1)" font-size="47.20" fill="#2f8a34" stroke="#2f8a34" stroke-width="0.4">Amplification factor, A</text>
<text transform="translate(149.13,1065.35) scale(0.9139,1)" font-size="66.38" fill="#1a1a1a" stroke="#1a1a1a" stroke-width="1.6" >0</text>
<text transform="translate(401.71,1065.35) scale(0.8428,1)" font-size="66.38" fill="#1a1a1a" stroke="#1a1a1a" stroke-width="1.6" >0.002</text>
<text transform="translate(707.13,1065.35) scale(0.8355,1)" font-size="66.38" fill="#1a1a1a" stroke="#1a1a1a" stroke-width="1.6" >0.004</text>
<text transform="translate(1012.52,1065.35) scale(0.8405,1)" font-size="66.38" fill="#1a1a1a" stroke="#1a1a1a" stroke-width="1.6" >0.006</text>
<text transform="translate(1317.92,1065.35) scale(0.8404,1)" font-size="66.38" fill="#1a1a1a" stroke="#1a1a1a" stroke-width="1.6" >0.008</text>
<text transform="translate(1642.98,1065.35) scale(0.7782,1)" font-size="66.38" fill="#1a1a1a" stroke="#1a1a1a" stroke-width="1.6" >0.01</text>
<rect x="158" y="1323" width="1541" height="4" fill="#f8f8f8"/>
<rect x="158" y="1335" width="1541" height="4" fill="#d0d0d0"/>
<rect x="158" y="2182" width="1541" height="4" fill="#cacaca"/>
<rect x="158" y="2194" width="1541" height="4" fill="#fbfbfb"/>
<rect x="158" y="1327" width="4" height="867" fill="#f2f2f2"/>
<rect x="170" y="1327" width="4" height="867" fill="#d4d2d8"/>
<rect x="1687" y="1327" width="4" height="867" fill="#d0d0d0"/>
<rect x="1699" y="1327" width="4" height="867" fill="#f8f8f8"/>
<rect x="158" y="1327" width="1541" height="4" fill="#acacac"/>
<rect x="158" y="1331" width="1541" height="4" fill="#808080"/>
<rect x="158" y="2186" width="1541" height="4" fill="#848484"/>
<rect x="158" y="2190" width="1541" height="4" fill="#adadad"/>
<rect x="162" y="1327" width="4" height="867" fill="#b0b0b0"/>
<rect x="166" y="1327" width="4" height="867" fill="#908f94"/>
<rect x="1691" y="1327" width="4" height="867" fill="#8a8a8a"/>
<rect x="1695" y="1327" width="4" height="867" fill="#b4b4b4"/>
<line x1="471.4" y1="2186" x2="471.4" y2="2169" stroke="#d2d2d2" stroke-width="11" stroke-linecap="butt"/>
<line x1="471.4" y1="2186" x2="471.4" y2="2169" stroke="#7e7e7e" stroke-width="5" stroke-linecap="butt"/>
<line x1="471.4" y1="1333" x2="471.4" y2="1349" stroke="#d2d2d2" stroke-width="11" stroke-linecap="butt"/>
<line x1="471.4" y1="1333" x2="471.4" y2="1349" stroke="#7e7e7e" stroke-width="5" stroke-linecap="butt"/>
<line x1="776.8" y1="2186" x2="776.8" y2="2169" stroke="#d2d2d2" stroke-width="11" stroke-linecap="butt"/>
<line x1="776.8" y1="2186" x2="776.8" y2="2169" stroke="#7e7e7e" stroke-width="5" stroke-linecap="butt"/>
<line x1="776.8" y1="1333" x2="776.8" y2="1349" stroke="#d2d2d2" stroke-width="11" stroke-linecap="butt"/>
<line x1="776.8" y1="1333" x2="776.8" y2="1349" stroke="#7e7e7e" stroke-width="5" stroke-linecap="butt"/>
<line x1="1082.2" y1="2186" x2="1082.2" y2="2169" stroke="#d2d2d2" stroke-width="11" stroke-linecap="butt"/>
<line x1="1082.2" y1="2186" x2="1082.2" y2="2169" stroke="#7e7e7e" stroke-width="5" stroke-linecap="butt"/>
<line x1="1082.2" y1="1333" x2="1082.2" y2="1349" stroke="#d2d2d2" stroke-width="11" stroke-linecap="butt"/>
<line x1="1082.2" y1="1333" x2="1082.2" y2="1349" stroke="#7e7e7e" stroke-width="5" stroke-linecap="butt"/>
<line x1="1387.6" y1="2186" x2="1387.6" y2="2169" stroke="#d2d2d2" stroke-width="11" stroke-linecap="butt"/>
<line x1="1387.6" y1="2186" x2="1387.6" y2="2169" stroke="#7e7e7e" stroke-width="5" stroke-linecap="butt"/>
<line x1="1387.6" y1="1333" x2="1387.6" y2="1349" stroke="#d2d2d2" stroke-width="11" stroke-linecap="butt"/>
<line x1="1387.6" y1="1333" x2="1387.6" y2="1349" stroke="#7e7e7e" stroke-width="5" stroke-linecap="butt"/>
<line x1="168" y1="2045.17" x2="183" y2="2045.17" stroke="#d2d2d2" stroke-width="10" stroke-linecap="butt"/>
<line x1="168" y1="2045.17" x2="183" y2="2045.17" stroke="#7a7a7a" stroke-width="6" stroke-linecap="butt"/>
<line x1="1691" y1="2045.17" x2="1676" y2="2045.17" stroke="#d2d2d2" stroke-width="10" stroke-linecap="butt"/>
<line x1="1691" y1="2045.17" x2="1676" y2="2045.17" stroke="#7a7a7a" stroke-width="6" stroke-linecap="butt"/>
<line x1="168" y1="1902.33" x2="183" y2="1902.33" stroke="#d2d2d2" stroke-width="10" stroke-linecap="butt"/>
<line x1="168" y1="1902.33" x2="183" y2="1902.33" stroke="#7a7a7a" stroke-width="6" stroke-linecap="butt"/>
<line x1="1691" y1="1902.33" x2="1676" y2="1902.33" stroke="#d2d2d2" stroke-width="10" stroke-linecap="butt"/>
<line x1="1691" y1="1902.33" x2="1676" y2="1902.33" stroke="#7a7a7a" stroke-width="6" stroke-linecap="butt"/>
<line x1="168" y1="1759.5" x2="183" y2="1759.5" stroke="#d2d2d2" stroke-width="10" stroke-linecap="butt"/>
<line x1="168" y1="1759.5" x2="183" y2="1759.5" stroke="#7a7a7a" stroke-width="6" stroke-linecap="butt"/>
<line x1="1691" y1="1759.5" x2="1676" y2="1759.5" stroke="#d2d2d2" stroke-width="10" stroke-linecap="butt"/>
<line x1="1691" y1="1759.5" x2="1676" y2="1759.5" stroke="#7a7a7a" stroke-width="6" stroke-linecap="butt"/>
<line x1="168" y1="1616.67" x2="183" y2="1616.67" stroke="#d2d2d2" stroke-width="10" stroke-linecap="butt"/>
<line x1="168" y1="1616.67" x2="183" y2="1616.67" stroke="#7a7a7a" stroke-width="6" stroke-linecap="butt"/>
<line x1="1691" y1="1616.67" x2="1676" y2="1616.67" stroke="#d2d2d2" stroke-width="10" stroke-linecap="butt"/>
<line x1="1691" y1="1616.67" x2="1676" y2="1616.67" stroke="#7a7a7a" stroke-width="6" stroke-linecap="butt"/>
<line x1="168" y1="1473.83" x2="183" y2="1473.83" stroke="#d2d2d2" stroke-width="10" stroke-linecap="butt"/>
<line x1="168" y1="1473.83" x2="183" y2="1473.83" stroke="#7a7a7a" stroke-width="6" stroke-linecap="butt"/>
<line x1="1691" y1="1473.83" x2="1676" y2="1473.83" stroke="#d2d2d2" stroke-width="10" stroke-linecap="butt"/>
<line x1="1691" y1="1473.83" x2="1676" y2="1473.83" stroke="#7a7a7a" stroke-width="6" stroke-linecap="butt"/>
<rect x="410" y="1577" width="118" height="81.5" fill="none" stroke="#ef6a55" stroke-width="4.5" stroke-dasharray="16 12" stroke-dashoffset="-4" opacity="0.85"/>
<polyline points="557,1625 607,1625 641,1674" fill="none" stroke="#ef6a55" stroke-width="4.5" stroke-linejoin="round" stroke-linecap="round" stroke-dasharray="16 12" stroke-linecap="butt" opacity="0.85"/>
<polyline points="168,1960 178,2010 187,2048 196,1946 203,1832 207,1752 211,1694 223,1656 237,1616 260,1614 285,1612 310,1616 335,1611 360,1615 385,1611 408,1615 425,1612 453,1631 500,1598 525,1614 560,1616 584,1616 594,1621 618,1608 640,1614 700,1614 742,1611 783,1620 810,1607 855,1617 883,1610 910,1614 960,1613 1000,1614 1040,1612 1080,1615 1120,1612 1160,1614 1195,1614 1213,1605 1219,1619 1230,1650 1240,1675 1245,1745 1247,1816 1252,1893 1258,1970 1263,2068 1264,2075 1267,2010 1270,1945 1275,1842 1281,1740 1284,1663 1287,1616 1310,1612 1330,1610 1360,1614 1400,1612 1440,1614 1480,1613 1505,1614 1524,1628 1551,1603 1574,1603 1597,1612 1640,1614 1680,1612 1692,1607" fill="none" stroke="#b8b8ff" stroke-width="11" stroke-linejoin="round" stroke-linecap="round" />
<polyline points="168,1960 178,2010 187,2048 196,1946 203,1832 207,1752 211,1694 223,1656 237,1616 260,1614 285,1612 310,1616 335,1611 360,1615 385,1611 408,1615 425,1612 453,1631 500,1598 525,1614 560,1616 584,1616 594,1621 618,1608 640,1614 700,1614 742,1611 783,1620 810,1607 855,1617 883,1610 910,1614 960,1613 1000,1614 1040,1612 1080,1615 1120,1612 1160,1614 1195,1614 1213,1605 1219,1619 1230,1650 1240,1675 1245,1745 1247,1816 1252,1893 1258,1970 1263,2068 1264,2075 1267,2010 1270,1945 1275,1842 1281,1740 1284,1663 1287,1616 1310,1612 1330,1610 1360,1614 1400,1612 1440,1614 1480,1613 1505,1614 1524,1628 1551,1603 1574,1603 1597,1612 1640,1614 1680,1612 1692,1607" fill="none" stroke="#1616e6" stroke-width="6.5" stroke-linejoin="round" stroke-linecap="round" />
<line x1="215" y1="2039" x2="1228" y2="2039" stroke="#e87a6a" stroke-width="4.5"/>
<polygon points="193,2039 222,2027 222,2051" fill="#ee2a10"/>
<polygon points="1251,2039 1222,2027 1222,2051" fill="#ee2a10"/>
<text transform="translate(576.73,1283) scale(0.8536,1)" font-size="71.76" fill="#1a1a1a" stroke="#1a1a1a" stroke-width="1.6" >WPT Decomposed Signal</text>
<text transform="translate(164.37,1313) scale(0.9043,1)" font-size="62.46" fill="#1a1a1a" stroke="#1a1a1a" stroke-width="0.8" >x</text>
<text transform="translate(206.8,1312.35) scale(0.8310,1)" font-size="66.38" fill="#1a1a1a" stroke="#1a1a1a" stroke-width="0.8" >10</text>
<text transform="translate(265.53,1273) scale(0.8437,1)" font-size="39.24" fill="#1a1a1a" stroke="#1a1a1a" stroke-width="0.4" >-4</text>
<text transform="translate(103.38,2211) scale(0.8804,1)" font-size="66.86" fill="#1a1a1a" stroke="#1a1a1a" stroke-width="1.6" >-4</text>
<text transform="translate(103.34,2068.17) scale(0.9099,1)" font-size="65.88" fill="#1a1a1a" stroke="#1a1a1a" stroke-width="1.6" >-3</text>
<text transform="translate(103.32,1925.33) scale(0.9171,1)" font-size="65.88" fill="#1a1a1a" stroke="#1a1a1a" stroke-width="1.6" >-2</text>
<text transform="translate(103.54,1782.5) scale(0.8268,1)" font-size="66.86" fill="#1a1a1a" stroke="#1a1a1a" stroke-width="1.6" >-1</text>
<text transform="translate(123.71,1640) scale(0.8640,1)" font-size="67.80" fill="#1a1a1a" stroke="#1a1a1a" stroke-width="1.6" >0</text>
<text transform="translate(126.11,1496.83) scale(0.7632,1)" font-size="66.86" fill="#1a1a1a" stroke="#1a1a1a" stroke-width="1.6" >1</text>
<text transform="translate(122.91,1355) scale(0.8941,1)" font-size="68.74" fill="#1a1a1a" stroke="#1a1a1a" stroke-width="1.6" >2</text>
<text transform="translate(149.13,2254.34) scale(0.8948,1)" font-size="67.80" fill="#1a1a1a" stroke="#1a1a1a" stroke-width="1.6" >0</text>
<text transform="translate(401.71,2254.34) scale(0.8252,1)" font-size="67.80" fill="#1a1a1a" stroke="#1a1a1a" stroke-width="1.6" >0.002</text>
<text transform="translate(707.13,2254.34) scale(0.8181,1)" font-size="67.80" fill="#1a1a1a" stroke="#1a1a1a" stroke-width="1.6" >0.004</text>
<text transform="translate(1012.52,2254.34) scale(0.8230,1)" font-size="67.80" fill="#1a1a1a" stroke="#1a1a1a" stroke-width="1.6" >0.006</text>
<text transform="translate(1317.92,2254.34) scale(0.8229,1)" font-size="67.80" fill="#1a1a1a" stroke="#1a1a1a" stroke-width="1.6" >0.008</text>
<text transform="translate(1642.98,2254.34) scale(0.7620,1)" font-size="67.80" fill="#1a1a1a" stroke="#1a1a1a" stroke-width="1.6" >0.01</text>
<text transform="translate(805.82,2322.8) scale(0.8499,1)" font-size="61.83" fill="#1a1a1a" stroke="#1a1a1a" stroke-width="1.6" >Time, t (s)</text>
<text transform="translate(79.42,1980.27) rotate(-90) scale(1.0911,1)" font-size="55.79" fill="#1a1a1a" stroke="#1a1a1a" stroke-width="1.6">Velocity, V (m/s)</text>
<text transform="translate(353.65,1753.6) scale(0.9725,1)" font-size="67.07" fill="#ef6a55" stroke="#ef6a55" stroke-width="0.3" >Reduced section (-/+)</text>
<text transform="translate(661.61,2106) scale(0.8364,1)" font-size="74.13" fill="#ef6a55" stroke="#ef6a55" stroke-width="0.3" >T≈Tr</text>
</svg>
</body></html>
